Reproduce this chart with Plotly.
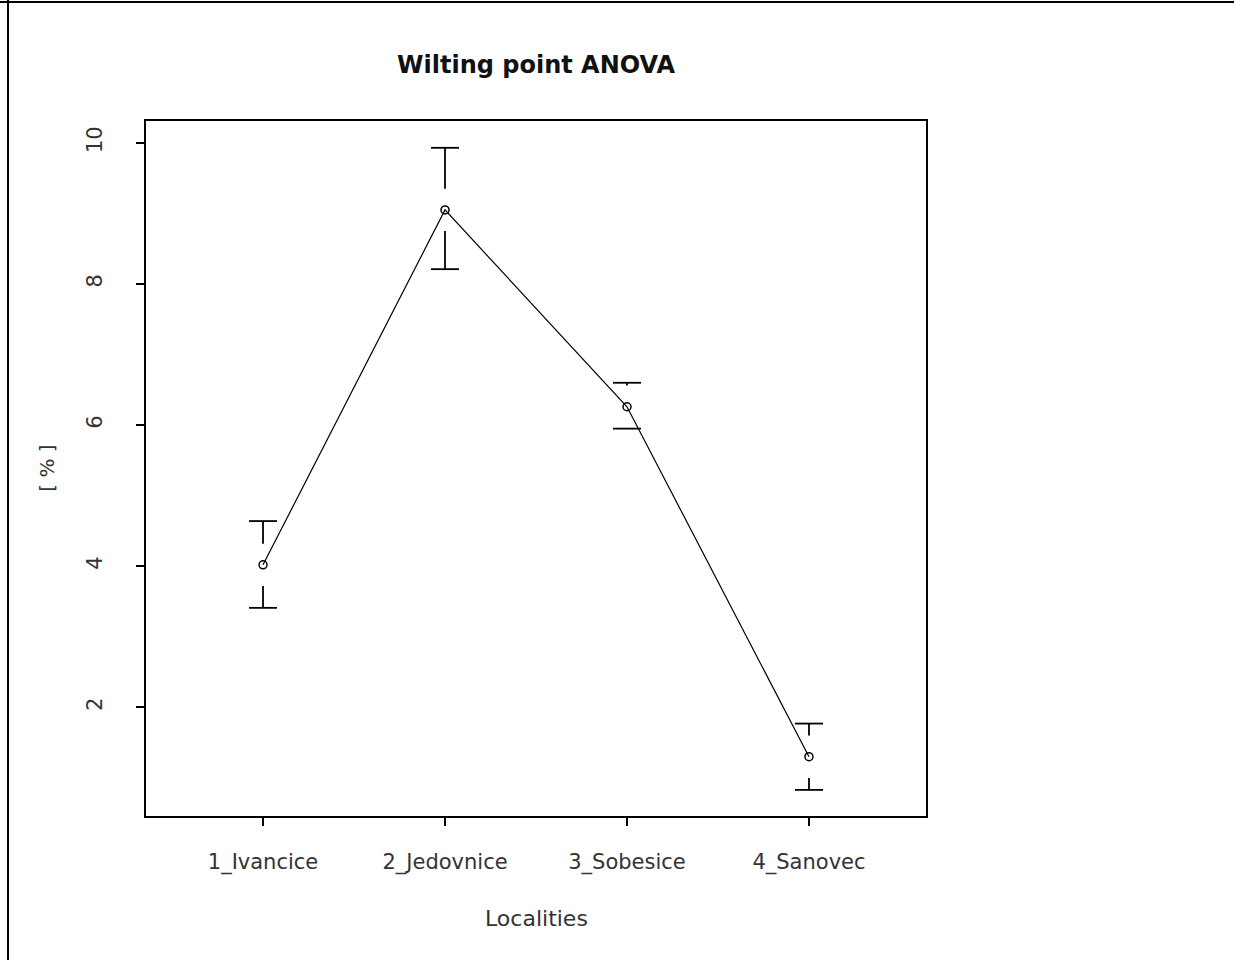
import plotly.graph_objects as go

# Wilting point ANOVA: group means with confidence intervals
localities = ["1_Ivancice", "2_Jedovnice", "3_Sobesice", "4_Sanovec"]
means = [4.02, 9.05, 6.26, 1.30]
upper = [4.64, 9.93, 6.60, 1.77]
lower = [3.41, 8.21, 5.95, 0.83]
y_ticks = [2, 4, 6, 8, 10]

GAP = 0.30  # stems stop short of the point, like R plotCI
FONT = "DejaVu Sans"

# stems of the interval bars, with None breaks between segments
stem_x, stem_y = [], []
for loc, m, hi, lo in zip(localities, means, upper, lower):
    if hi > m + GAP:
        stem_x += [loc, loc, None]
        stem_y += [m + GAP, hi, None]
    if lo < m - GAP:
        stem_x += [loc, loc, None]
        stem_y += [m - GAP, lo, None]

fig = go.Figure()

fig.add_trace(
    go.Scatter(
        x=stem_x,
        y=stem_y,
        mode="lines",
        line=dict(color="black", width=1.8),
        hoverinfo="skip",
        showlegend=False,
    )
)

fig.add_trace(
    go.Scatter(
        x=localities + localities,
        y=upper + lower,
        mode="markers",
        marker=dict(
            symbol="line-ew-open",
            size=20,
            color="black",
            line=dict(color="black", width=1.8),
        ),
        hoverinfo="skip",
        showlegend=False,
    )
)

fig.add_trace(
    go.Scatter(
        x=localities,
        y=means,
        mode="lines+markers",
        line=dict(color="black", width=1.2),
        marker=dict(
            symbol="circle-open",
            size=8,
            color="black",
            line=dict(color="black", width=1.5),
        ),
        showlegend=False,
    )
)

axis_common = dict(
    showline=True,
    linecolor="black",
    linewidth=1.5,
    mirror=True,
    ticks="outside",
    ticklen=8,
    tickwidth=1.5,
    tickcolor="black",
    showgrid=False,
    zeroline=False,
    tickfont=dict(family=FONT, size=21, color="#333"),
)

fig.update_layout(
    width=1234,
    height=960,
    margin=dict(l=146, r=308, t=121, b=144),
    paper_bgcolor="white",
    plot_bgcolor="white",
    xaxis=dict(
        **axis_common,
        type="category",
        range=[-0.643, 3.643],
        ticklabelstandoff=18,
    ),
    yaxis=dict(
        **axis_common,
        range=[0.46, 10.31],
        tickvals=y_ticks,
        tickangle=-90,
        ticklabelstandoff=26,
    ),
    annotations=[
        dict(
            text="<b>Wilting point ANOVA</b>",
            xref="paper", yref="paper",
            x=0.5, y=1.0806,
            xanchor="center", yanchor="middle",
            showarrow=False,
            font=dict(family=FONT, size=24, color="#111"),
        ),
        dict(
            text="Localities",
            xref="paper", yref="paper",
            x=0.5, y=-0.147,
            xanchor="center", yanchor="middle",
            showarrow=False,
            font=dict(family=FONT, size=22, color="#333"),
        ),
        dict(
            text="[ % ]",
            xref="paper", yref="paper",
            x=-0.128, y=0.5,
            xanchor="center", yanchor="middle",
            textangle=-90,
            showarrow=False,
            font=dict(family=FONT, size=20, color="#333"),
        ),
    ],
    shapes=[
        # outer frame of the original page (left and top edges)
        dict(type="line", xref="paper", yref="paper",
             x0=-0.1769, x1=-0.1769, y0=-0.21, y1=1.1741,
             line=dict(color="black", width=2)),
        dict(type="line", xref="paper", yref="paper",
             x0=-0.1885, x1=1.40, y0=1.1712, y1=1.1712,
             line=dict(color="black", width=2)),
    ],
)

# drop the default body margin so the figure sits at the page origin
fig.write_html(
    "out.html",
    config={"displayModeBar": False},
    post_script="document.body.style.margin='0';",
)
